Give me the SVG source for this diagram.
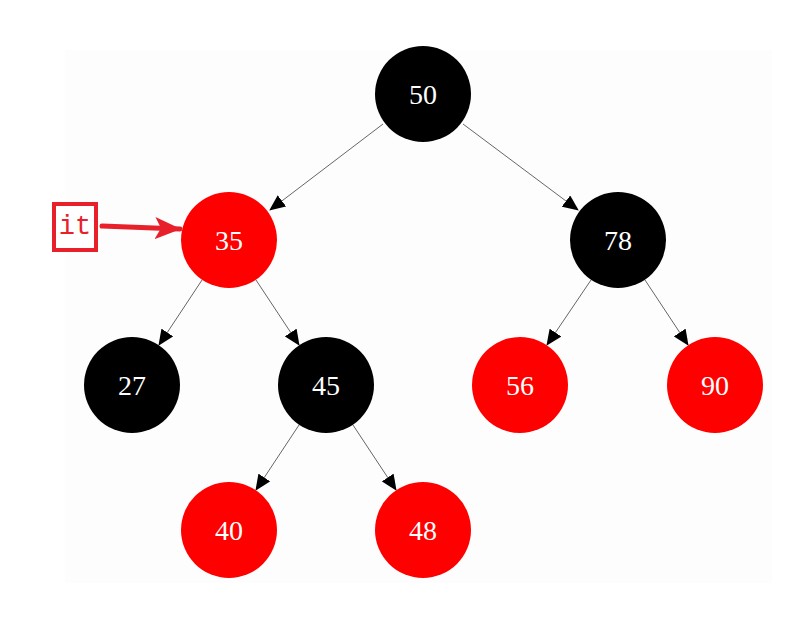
<svg xmlns="http://www.w3.org/2000/svg" width="805" height="641" viewBox="0 0 805 641">
<style>
.n text{font-family:"Liberation Serif","DejaVu Serif",serif;font-size:28px;fill:#ffffff;text-anchor:middle;dominant-baseline:central}
.blk{fill:#000000}
.red{fill:#ff0000}
.e{stroke:#666666;stroke-width:1;fill:none;marker-end:url(#ah)}
.itl{font-family:"Liberation Mono","DejaVu Sans Mono",monospace;font-size:27px;fill:#e8202a;text-anchor:middle;dominant-baseline:central}
</style>
<defs>
<marker id="ah" markerUnits="userSpaceOnUse" markerWidth="16" markerHeight="14" refX="15" refY="7" orient="auto">
<path d="M0,0 L16,7 L0,14 Z" fill="#000"/>
</marker>
<marker id="rah" markerUnits="userSpaceOnUse" markerWidth="26" markerHeight="22" refX="25" refY="11" orient="auto">
<path d="M0,0 L26,11 L0,22 L6,11 Z" fill="#e8202a"/>
</marker>
</defs>
<rect width="805" height="641" fill="#ffffff"/>
<rect x="65" y="50" width="707" height="533" fill="#fdfdfd"/>
<g id="edges">
<line class="e" x1="383" y1="124" x2="270" y2="210"/>
<line class="e" x1="463" y1="124" x2="578" y2="210"/>
<line class="e" x1="202" y1="280" x2="159" y2="345"/>
<line class="e" x1="256" y1="280" x2="299" y2="345"/>
<line class="e" x1="591" y1="280" x2="547" y2="345"/>
<line class="e" x1="645" y1="280" x2="688" y2="345"/>
<line class="e" x1="299" y1="425" x2="256" y2="490"/>
<line class="e" x1="353" y1="425" x2="396" y2="490"/>
</g>
<g id="n50" class="n"><circle class="blk" cx="423" cy="94" r="48"/><text x="423" y="94">50</text></g>
<g id="n35" class="n"><circle class="red" cx="229" cy="240" r="48"/><text x="229" y="240">35</text></g>
<g id="n78" class="n"><circle class="blk" cx="618" cy="240" r="48"/><text x="618" y="240">78</text></g>
<g id="n27" class="n"><circle class="blk" cx="132" cy="385" r="48"/><text x="132" y="385">27</text></g>
<g id="n45" class="n"><circle class="blk" cx="326" cy="385" r="48"/><text x="326" y="385">45</text></g>
<g id="n56" class="n"><circle class="red" cx="520" cy="385" r="48"/><text x="520" y="385">56</text></g>
<g id="n90" class="n"><circle class="red" cx="715" cy="385" r="48"/><text x="715" y="385">90</text></g>
<g id="n40" class="n"><circle class="red" cx="229" cy="530" r="48"/><text x="229" y="530">40</text></g>
<g id="n48" class="n"><circle class="red" cx="423" cy="530" r="48"/><text x="423" y="530">48</text></g>
<g id="it">
<rect x="54" y="204" width="42" height="46" fill="#ffffff" stroke="#e8202a" stroke-width="4"/>
<text class="itl" x="75" y="227">it</text>
<line x1="102" y1="226" x2="180" y2="229" stroke="#e8202a" stroke-width="5" stroke-linecap="round" marker-end="url(#rah)"/>
</g>
</svg>
